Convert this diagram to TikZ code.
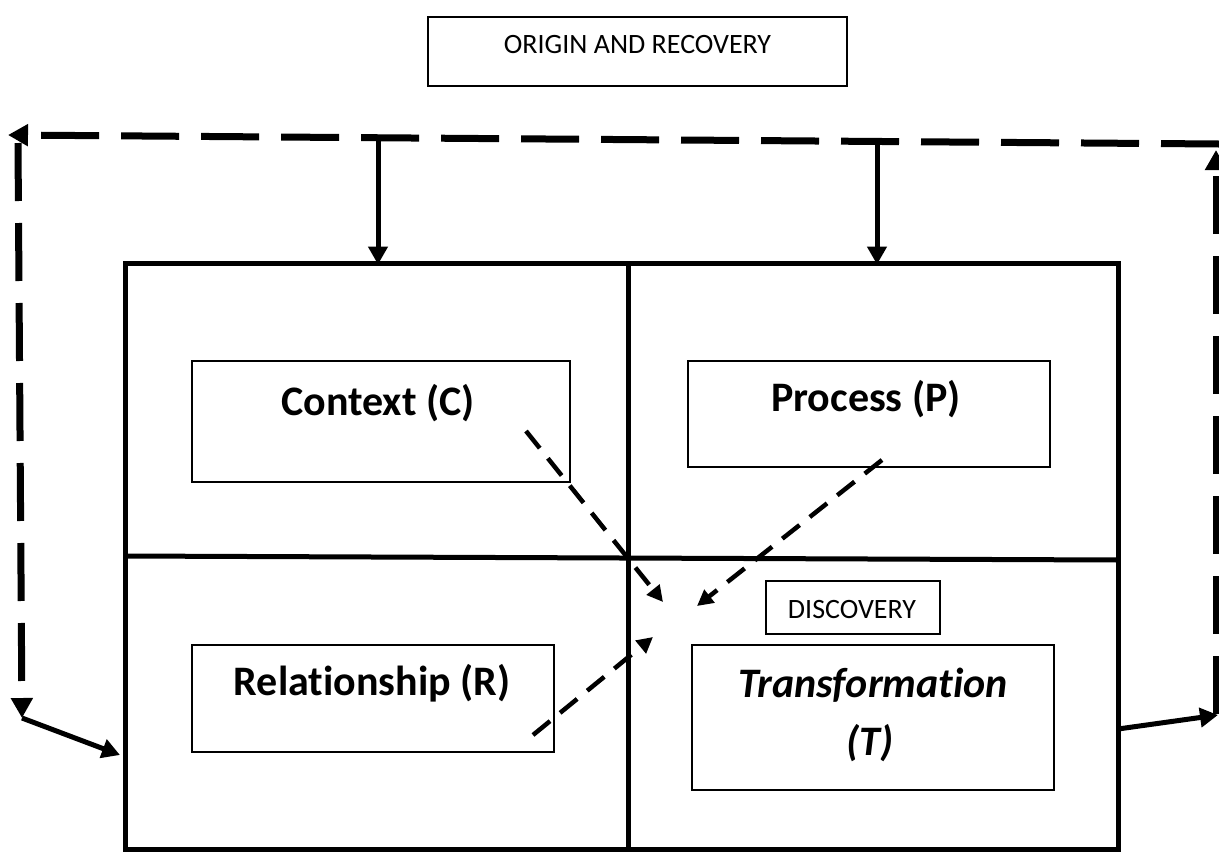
\documentclass[tikz,border=0pt]{standalone}
\usepackage{fontspec}
\setmainfont{Carlito}[Ligatures=NoCommon]
\usetikzlibrary{arrows.meta,positioning}

\tikzset{
  mainbox/.style={draw,line width=5pt,inner sep=0pt},
  cell/.style={draw,line width=2.5pt,inner sep=0pt},
  tag/.style={draw,line width=2pt,inner sep=0pt},
  tagtext/.style={anchor=base,inner sep=0pt,font=\fontsize{28}{34}\selectfont},
  celltext/.style={anchor=base,inner sep=0pt,font=\fontsize{42}{58}\selectfont\bfseries},
  cycleline/.style={line width=7pt,dash pattern=on 58pt off 22pt,-{Triangle[length=20pt,width=21pt]}},
  feed/.style={line width=5pt,-{Triangle[length=18pt,width=19pt]}},
  crossline/.style={line width=4.5pt,dash pattern=on 22pt off 13pt,-{Triangle[length=16pt,width=16pt]}},
}

\begin{document}
\begin{tikzpicture}[x=1pt,y=-1pt]
\useasboundingbox (0,0) rectangle (1219,852);

\node (orig) at (637.5,51.5) [tag,minimum width=419pt,minimum height=69pt] {};
\node (origt) at (637.5,53) [tagtext] {ORIGIN AND RECOVERY};

\node (frame) at (621.5,556) [mainbox,minimum width=993pt,minimum height=586pt] {};
\draw [line width=5pt] (628,263) -- (628,849);
\draw [line width=5pt] (125,556) -- (1118,560);

\node (ctx)  at (381,421.5) [cell,minimum width=378pt,minimum height=121pt] {};
\node (proc) at (869,414)   [cell,minimum width=362pt,minimum height=106pt] {};
\node (rel)  at (373,698.5) [cell,minimum width=362pt,minimum height=107pt] {};
\node (trf)  at (873,717.5) [cell,minimum width=362pt,minimum height=145pt] {};
\node (disc) at (853,607.5) [tag,minimum width=174pt,minimum height=53pt] {};

\node (ctxt)  at (378,415) [celltext] {Context (C)};
\node (proct) at (866,411) [celltext] {Process (P)};
\node (relt)  at (372,695) [celltext] {Relationship (R)};
\node (trft)  at (873,697) [celltext] {\itshape Transformation};
\node (trft2) at (870,755) [celltext] {\itshape (T)};
\node (disct) at (852,618) [tagtext] {DISCOVERY};

\coordinate (out1) at (1118,729);
\coordinate (out2) at (1218,715);
\coordinate (rb)   at (1216,714);
\coordinate (rt)   at (1216,150);
\coordinate (tr)   at (1219,144);
\coordinate (tl)   at (8,135);
\coordinate (lt)   at (18,143);
\coordinate (lb)   at (22,718);
\coordinate (in1)  at (120,755);

\draw [feed] (out1) -- (out2);
\draw [cycleline] (rb) -- (rt);
\draw [cycleline] (tr) -- (tl);
\draw [cycleline] (lt) -- (lb);
\draw [feed] (lb) -- (in1);

\coordinate (d1) at (378,138);
\coordinate (d2) at (877,142);
\draw [feed] (d1) -- ([yshift=-4pt]d1 |- frame.north);
\draw [feed] (d2) -- ([yshift=-4pt]d2 |- frame.north);

\coordinate (c1) at (526,431);
\coordinate (c2) at (663,602);
\coordinate (p1) at (882,460);
\coordinate (p2) at (697,606);
\coordinate (r1) at (533,735);
\coordinate (r2) at (653,637);
\draw [crossline] (c1) -- (c2);
\draw [crossline] (p1) -- (p2);
\draw [crossline] (r1) -- (r2);
\end{tikzpicture}
\end{document}
